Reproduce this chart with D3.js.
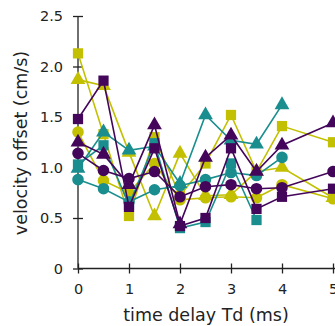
<!DOCTYPE html>
<html>
<head>
<meta charset="utf-8" />
<script src="https://d3js.org/d3.v7.min.js"></script>
<style>
  body { margin: 0; background: #fff; }
  text { font-family: "DejaVu Sans", sans-serif; fill: #222; }
</style>
</head>
<body>
<div id="chart"></div>
<script>
// time delay values (ms)
const delays = [0, 0.5, 1, 1.5, 2, 2.5, 3, 3.5, 4, 5];

const oliveSquare   = [2.13, 1.33, 0.52, 1.30, 0.72, 1.04, 1.52, 0.96, 1.41, 1.25];
const oliveTriangle = [1.87, 1.81, 1.15, 0.52, 1.14, 0.72, 0.73, 0.96, 1.00, 0.70];
const oliveCircle   = [1.35, 0.87, 0.75, 1.04, 0.68, 0.70, 0.71, 0.70, 0.83, 0.69];
const tealSquare    = [1.03, 1.22, 0.63, 1.24, 0.40, 0.46, 1.04, 0.48, null, null];
const tealTriangle  = [0.99, 1.35, 1.17, 1.21, 0.84, 1.52, 1.27, 1.23, 1.62, null];
const tealCircle    = [0.88, 0.79, 0.66, 0.78, 0.82, 0.88, 0.95, 0.92, 1.10, null];
const purpleSquare  = [1.48, 1.86, 0.61, 1.19, 0.42, 0.50, 1.19, 0.59, 0.71, 0.79];
const purpleTriangle= [1.25, 1.13, 0.83, 1.42, 0.44, 1.10, 1.32, 0.96, 1.22, 1.44];
const purpleCircle  = [1.14, 0.97, 0.89, 0.96, 0.71, 0.81, 0.83, 0.79, 0.80, 0.96];

const xTicks = [0, 1, 2, 3, 4, 5];
const yTicks = [0, 0.5, 1.0, 1.5, 2.0, 2.5];
const yTickLabels = ["0", "0.5", "1.0", "1.5", "2.0", "2.5"];

const olive = "#c2c000", teal = "#1a8e8e", purple = "#44065a";

const series = [
  {values: oliveSquare, color: olive, shape: d3.symbolSquare},
  {values: oliveTriangle, color: olive, shape: d3.symbolTriangle},
  {values: oliveCircle, color: olive, shape: d3.symbolCircle},
  {values: tealSquare, color: teal, shape: d3.symbolSquare},
  {values: tealTriangle, color: teal, shape: d3.symbolTriangle},
  {values: tealCircle, color: teal, shape: d3.symbolCircle},
  {values: purpleSquare, color: purple, shape: d3.symbolSquare},
  {values: purpleTriangle, color: purple, shape: d3.symbolTriangle},
  {values: purpleCircle, color: purple, shape: d3.symbolCircle}
];

const W = 335, H = 326;
const svg = d3.select("#chart").append("svg")
  .attr("width", W).attr("height", H);

const x = d3.scaleLinear().domain([0, 5]).range([78, 333]);
const y = d3.scaleLinear().domain([0, 2.5]).range([268.5, 16]);

// axes
const xAxis = svg.append("g")
  .attr("transform", `translate(0,${y(0)})`)
  .call(d3.axisBottom(x).tickValues(xTicks).tickSize(5).tickPadding(10).tickFormat(d3.format("d")));
const yAxis = svg.append("g")
  .attr("transform", `translate(${x(0)},0)`)
  .call(d3.axisLeft(y).tickValues(yTicks).tickSize(5).tickPadding(10)
    .tickFormat((d, i) => yTickLabels[i]));

[xAxis, yAxis].forEach(a => {
  a.select(".domain").attr("stroke", "#222").attr("stroke-width", 1.3);
  a.selectAll(".tick line").attr("stroke", "#222").attr("stroke-width", 1.3);
  a.selectAll(".tick text").style("font-size", "14.5px").attr("fill", "#222");
});
// ticks cross the axis line
xAxis.selectAll(".tick line").attr("y1", -5);
yAxis.selectAll(".tick line").attr("x1", 5);
xAxis.select(".domain").attr("d", `M${x(0)},0H${W}`);
yAxis.select(".domain").attr("d", `M0,${y(2.5)}V${y(0)}`);

// series
const line = d3.line()
  .defined(d => d.v != null)
  .x(d => x(d.t)).y(d => y(d.v));

series.forEach(s => {
  const pts = delays.map((t, i) => ({t: t, v: s.values[i]}));
  const g = svg.append("g");
  g.append("path").datum(pts)
    .attr("d", line)
    .attr("fill", "none")
    .attr("stroke", s.color)
    .attr("stroke-width", 1.6);
  g.selectAll("path.mk")
    .data(pts.filter(d => d.v != null))
    .join("path")
      .attr("class", "mk")
      .attr("transform", d => `translate(${x(d.t)},${y(d.v)})`)
      .attr("d", d3.symbol().type(s.shape).size(s.shape === d3.symbolTriangle ? 95 : 105))
      .attr("fill", s.color);
});

// labels
svg.append("text")
  .attr("x", 206).attr("y", 321)
  .attr("text-anchor", "middle")
  .style("font-size", "17.5px")
  .text("time delay Td (ms)");
svg.append("text")
  .attr("transform", `translate(27,143) rotate(-90)`)
  .attr("text-anchor", "middle")
  .style("font-size", "17.5px")
  .text("velocity offset (cm/s)");
</script>
</body>
</html>
